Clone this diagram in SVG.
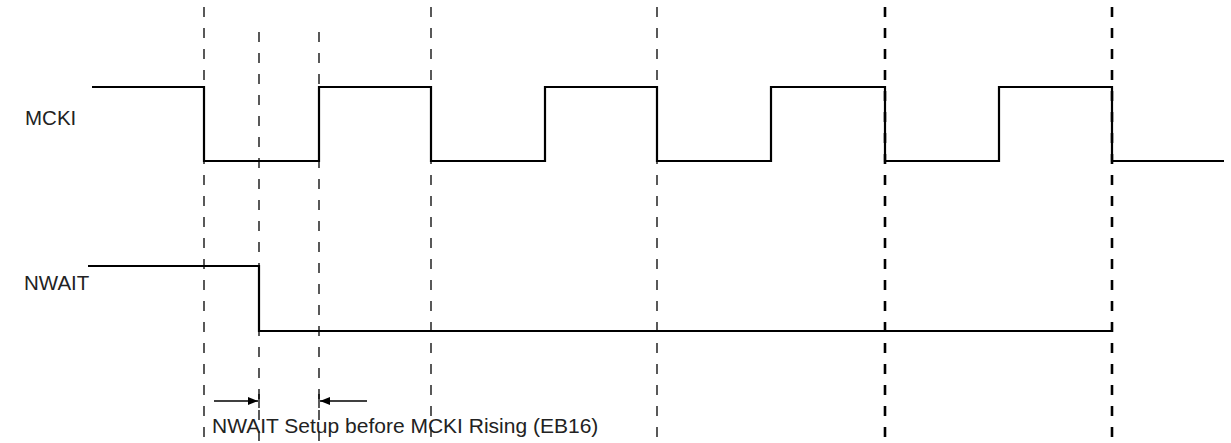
<svg xmlns="http://www.w3.org/2000/svg" width="1231" height="443" viewBox="0 0 1231 443">
<style>
.dash{stroke:#000;stroke-width:1.3;stroke-dasharray:10 11;fill:none}
.dashb{stroke:#000;stroke-width:2.6;stroke-dasharray:10 11;fill:none}
.wave{stroke:#000;stroke-width:2.2;fill:none}
.lbl{font-family:"Liberation Sans",Arial,sans-serif;font-size:20.5px;fill:#222}
.arr{stroke:#000;stroke-width:1.3;fill:none}
</style>
<defs>
<marker id="ah" markerWidth="10" markerHeight="8" refX="10" refY="4" orient="auto" markerUnits="userSpaceOnUse">
<path d="M0,0 L10,4 L0,8 Z" fill="#000"/>
</marker>
</defs>
<rect width="1231" height="443" fill="#fff"/>
<g id="connectors">
<line class="dash" x1="204" y1="7" x2="204" y2="443"/>
<line class="dash" x1="259" y1="32" x2="259" y2="443"/>
<line class="dash" x1="319" y1="32" x2="319" y2="443"/>
<line class="dash" x1="431" y1="7" x2="431" y2="443"/>
<line class="dash" x1="657" y1="7" x2="657" y2="443"/>
<line class="dashb" x1="885" y1="7" x2="885" y2="443"/>
<line class="dashb" x1="1112" y1="7" x2="1112" y2="443"/>
<line class="arr" x1="214" y1="401" x2="258" y2="401" marker-end="url(#ah)"/>
<line class="arr" x1="367" y1="401" x2="320" y2="401" marker-end="url(#ah)"/>
<line class="arr" x1="259" y1="394" x2="259" y2="408"/>
<line class="arr" x1="319" y1="394" x2="319" y2="408"/>
</g>
<g id="mcki">
<text class="lbl" x="25" y="125">MCKI</text>
<polyline class="wave" points="92,87 204,87 204,161 319,161 319,87 431,87 431,161 545,161 545,87 657,87 657,161 771,161 771,87 885,87 885,161 999,161 999,87 1112,87 1112,161 1224,161"/>
</g>
<g id="nwait">
<text class="lbl" x="24" y="290">NWAIT</text>
<polyline class="wave" points="88,266 259,266 259,331 1112,331"/>
</g>
<g id="setup-label">
<text class="lbl" x="212" y="433" style="font-size:21px">NWAIT Setup before MCKI Rising (EB16)</text>
</g>
</svg>
